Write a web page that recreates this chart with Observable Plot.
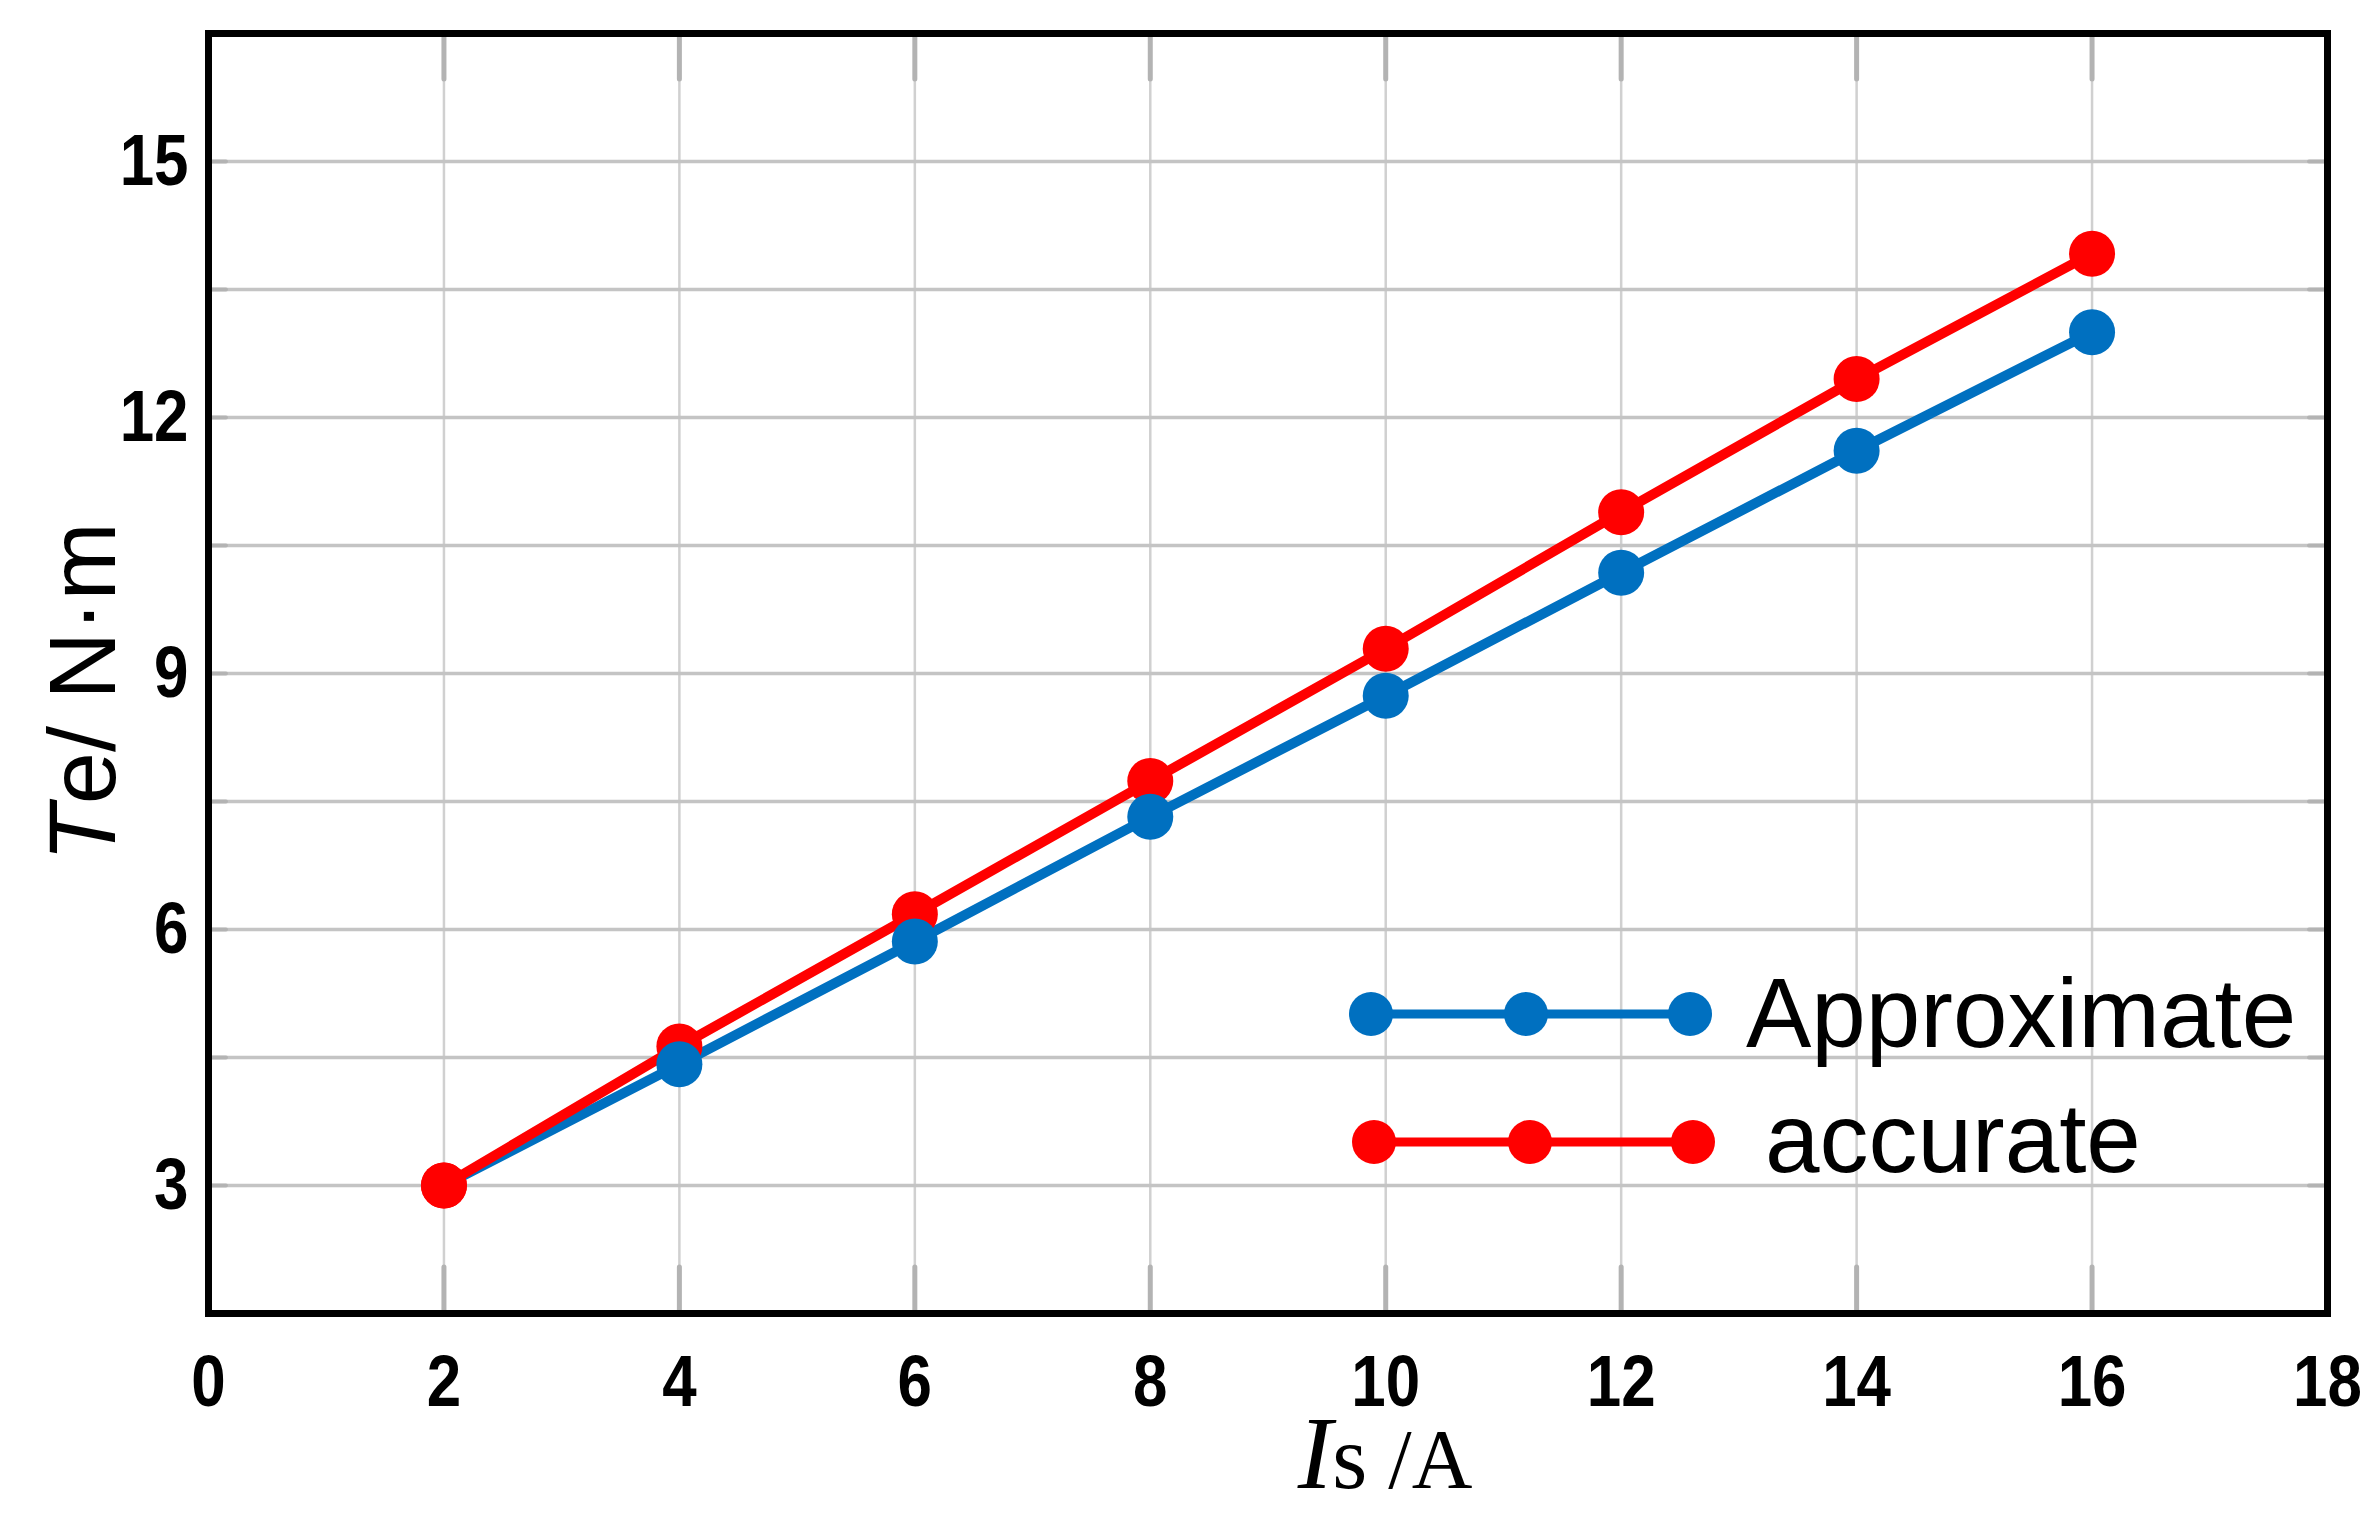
<!DOCTYPE html>
<html>
<head>
<meta charset="utf-8">
<script src="https://cdn.jsdelivr.net/npm/d3@7"></script>
<script src="https://cdn.jsdelivr.net/npm/@observablehq/plot@0.6"></script>
<style>
html, body { margin: 0; padding: 0; background: #fff; }
#wrap { position: relative; width: 2380px; height: 1532px; }
</style>
</head>
<body>
<div id="wrap"></div>
<script>
// ---- data ----
const current = [2, 4, 6, 8, 10, 12, 14, 16];             // Is / A
const approximate = [3.0, 4.42, 5.86, 7.32, 8.74, 10.18, 11.61, 13.0]; // Te / N·m
const accurate    = [3.0, 4.63, 6.18, 7.74, 9.29, 10.89, 12.45, 13.92];
const seriesNames = ["Approximate", "accurate"];
const seriesColors = ["#0070C0", "#FF0000"];
const xTickLabels = [0, 2, 4, 6, 8, 10, 12, 14, 16, 18];
const xGridValues = [2, 4, 6, 8, 10, 12, 14, 16];
const yTickLabels = [3, 6, 9, 12, 15];
const yGridValues = [3, 4.5, 6, 7.5, 9, 10.5, 12, 13.5, 15];
const xDomain = [0, 18];
const yDomain = [1.5, 16.5];

// ---- layout ----
const W = 2380, H = 1532;
const mL = 208, mR = 53, mT = 33, mB = 219;
const plotW = W - mL - mR, plotH = H - mT - mB;
const tickFont = "'Liberation Sans Narrow', 'Arial Narrow', 'Liberation Sans', Arial, sans-serif";

const approxRows = current.map((x, i) => ({x, y: approximate[i], series: seriesNames[0]}));
const accRows = current.map((x, i) => ({x, y: accurate[i], series: seriesNames[1]}));

const tickStyle = {stroke: "#b3b3b3", strokeWidth: 5, strokeLinecap: "round"};
const dotStyle = (color) => ({x: "x", y: "y", fill: color, r: 23, stroke: null});

const chart = Plot.plot({
  width: W, height: H,
  marginLeft: mL, marginRight: mR, marginTop: mT, marginBottom: mB,
  style: {background: "#fff"},
  x: {domain: xDomain, label: null},
  y: {domain: yDomain, label: null},
  marks: [
    Plot.gridX(xGridValues, {stroke: "#d0d0d0", strokeOpacity: 1, strokeWidth: 2.5}),
    Plot.gridY(yGridValues, {stroke: "#c4c4c4", strokeOpacity: 1, strokeWidth: 3.5}),
    Plot.ruleX(xGridValues, {x: d => d, ...tickStyle, insetTop: plotH - 46}),
    Plot.ruleX(xGridValues, {x: d => d, ...tickStyle, insetBottom: plotH - 46}),
    Plot.ruleY(yGridValues, {y: d => d, ...tickStyle, strokeWidth: 4, insetRight: plotW - 18}),
    Plot.ruleY(yGridValues, {y: d => d, ...tickStyle, strokeWidth: 4, insetLeft: plotW - 18}),
    Plot.line(approxRows, {x: "x", y: "y", stroke: seriesColors[0], strokeWidth: 10}),
    Plot.line(accRows, {x: "x", y: "y", stroke: seriesColors[1], strokeWidth: 10}),
    Plot.dot(accRows, dotStyle(seriesColors[1])),
    Plot.dot(approxRows.slice(1), dotStyle(seriesColors[0])),
    Plot.dot(accRows.slice(0, 1), dotStyle(seriesColors[1])),
    Plot.axisX(xTickLabels, {tickSize: 0, tickPadding: 41, tickFormat: d => String(d), fontSize: 72, fontWeight: "bold", fontFamily: tickFont, fill: "#000", label: null}),
    Plot.axisY(yTickLabels, {tickSize: 0, tickPadding: 20, tickFormat: d => String(d), fontSize: 72, fontWeight: "bold", fontFamily: tickFont, fill: "#000", label: null}),
    Plot.frame({stroke: "#000", strokeWidth: 7})
  ]
});

document.getElementById("wrap").appendChild(chart);
const svg = d3.select(chart);

// condense the bold tick digits horizontally (the reference uses a narrow bold face)
svg.selectAll("g[aria-label='x-axis tick label'] text, g[aria-label='y-axis tick label'] text").each(function () {
  const el = this;
  const t = el.getAttribute("transform");
  if (t) {
    el.setAttribute("transform", t + " scale(0.86,1)");
  } else {
    const x = +el.getAttribute("x") || 0, y = +el.getAttribute("y") || 0;
    el.removeAttribute("x"); el.removeAttribute("y");
    el.setAttribute("transform", `translate(${x},${y}) scale(0.86,1)`);
  }
});

// ---- axis titles ----
const yl = svg.append("text")
  .attr("transform", `translate(115, 692) rotate(-90)`)
  .attr("text-anchor", "middle")
  .attr("font-family", "'Liberation Sans', Arial, sans-serif")
  .attr("font-size", 94)
  .attr("fill", "#000");
yl.append("tspan").attr("font-style", "italic").text("T");
yl.append("tspan").text("e/ N·m");

const xl = svg.append("text")
  .attr("x", 1385).attr("y", 1488)
  .attr("text-anchor", "middle")
  .attr("font-family", "'Liberation Serif', 'Times New Roman', serif")
  .attr("fill", "#000");
xl.append("tspan").attr("font-style", "italic").attr("font-size", 104).text("I");
xl.append("tspan").attr("font-size", 90).text("s");
xl.append("tspan").attr("font-size", 84).text(" /A");

// ---- legend ----
const legendItems = [
  {name: seriesNames[0], color: seriesColors[0], x0: 1371, xm: 1526, x1: 1690, y: 1014, tx: 1746, ty: 1047},
  {name: seriesNames[1], color: seriesColors[1], x0: 1374, xm: 1530, x1: 1693, y: 1142, tx: 1765, ty: 1172}
];
const lg = svg.append("g").attr("class", "legend");
for (const it of legendItems) {
  lg.append("line").attr("x1", it.x0).attr("x2", it.x1).attr("y1", it.y).attr("y2", it.y)
    .attr("stroke", it.color).attr("stroke-width", 9);
  for (const cx of [it.x0, it.xm, it.x1]) {
    lg.append("circle").attr("cx", cx).attr("cy", it.y).attr("r", 22).attr("fill", it.color);
  }
  lg.append("text").attr("x", it.tx).attr("y", it.ty)
    .attr("text-anchor", "start")
    .attr("font-family", "'Liberation Sans', Arial, sans-serif")
    .attr("font-size", 98).attr("fill", "#000").text(it.name);
}
</script>
</body>
</html>
